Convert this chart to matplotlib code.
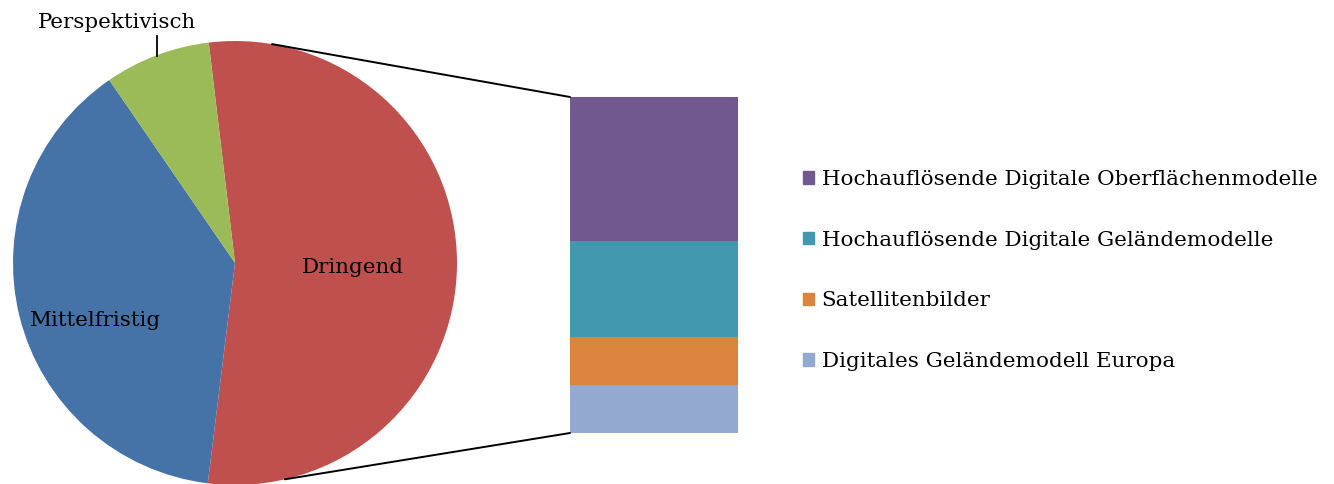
import numpy as np
import matplotlib
matplotlib.use('Agg')
import matplotlib.pyplot as plt
import matplotlib.patches as mpatches
from matplotlib.patches import ConnectionPatch

plt.rcParams['font.family'] = ['DejaVu Serif']

# Pie: urgency of the data needs
pie_labels = ['Dringend', 'Mittelfristig', 'Perspektivisch']
pie_values = [7, 5, 1]
pie_colors = ['#C0504D', '#4572A7', '#9BBB59']

# Bar: breakdown of the "Dringend" slice (bottom to top)
bar_labels = ['Digitales Geländemodell Europa', 'Satellitenbilder',
              'Hochauflösende Digitale Geländemodelle',
              'Hochauflösende Digitale Oberflächenmodelle']
bar_values = [1, 1, 2, 3]
bar_colors = ['#93A9CF', '#DB843D', '#4198AF', '#71588F']

FS = 15.4
W, H = 1334, 484
fig = plt.figure(figsize=(W / 100, H / 100), dpi=100)

# pie axes, pixel box converted to figure fraction
cx, cy, r = 235, 221, 222
ax_pie = fig.add_axes([(cx - r) / W, (cy - r) / H, 2 * r / W, 2 * r / H])

wedges, _ = ax_pie.pie(pie_values, colors=pie_colors, startangle=96.8,
                       counterclock=False, radius=1, center=(0, 0),
                       wedgeprops=dict(linewidth=0))
ax_pie.set_xlim(-1, 1)
ax_pie.set_ylim(-1, 1)
ax_pie.set_aspect('equal')
ax_pie.axis('off')

ax_pie.text(0.53, -0.02, pie_labels[0], fontsize=FS, ha='center', va='center')
ax_pie.text(-0.63, -0.26, pie_labels[1], fontsize=FS, ha='center', va='center')

# outside label with a short leader for the small slice
w = wedges[2]
mid = np.deg2rad((w.theta1 + w.theta2) / 2)
x0, y0 = np.cos(mid), np.sin(mid)
ax_pie.plot([x0, x0], [y0 - 0.005, y0 + 0.085], color='black', lw=1.3, clip_on=False)
ax_pie.text(x0 - 0.18, y0 + 0.147, pie_labels[2], fontsize=FS,
            ha='center', va='center', clip_on=False)

# stacked bar
ax_bar = fig.add_axes([570 / W, (H - 433) / H, 168 / W, 336 / H])
bottom = 0
for v, c in zip(bar_values, bar_colors):
    ax_bar.bar(0.5, v, width=1, bottom=bottom, color=c, edgecolor='none')
    bottom += v
ax_bar.set_xlim(0, 1)
ax_bar.set_ylim(0, sum(bar_values))
ax_bar.axis('off')

# connector lines from pie edge to bar corners
for ang, yb in [(80.4, sum(bar_values)), (-77.0, 0)]:
    a = np.deg2rad(ang)
    con = ConnectionPatch(xyA=(np.cos(a), np.sin(a)), coordsA=ax_pie.transData,
                          xyB=(0, yb), coordsB=ax_bar.transData,
                          color='black', lw=1.4)
    fig.add_artist(con)

handles = [mpatches.Patch(color=c, label=l)
           for c, l in zip(bar_colors[::-1], bar_labels[::-1])]
fig.legend(handles=handles, loc='center left', bbox_to_anchor=(803 / W, (H - 270.5) / H),
           frameon=False, fontsize=FS, handlelength=0.52, handleheight=0.52,
           handletextpad=0.35, labelspacing=1.95, borderpad=0, borderaxespad=0)

fig.savefig('out.png', dpi=100)
